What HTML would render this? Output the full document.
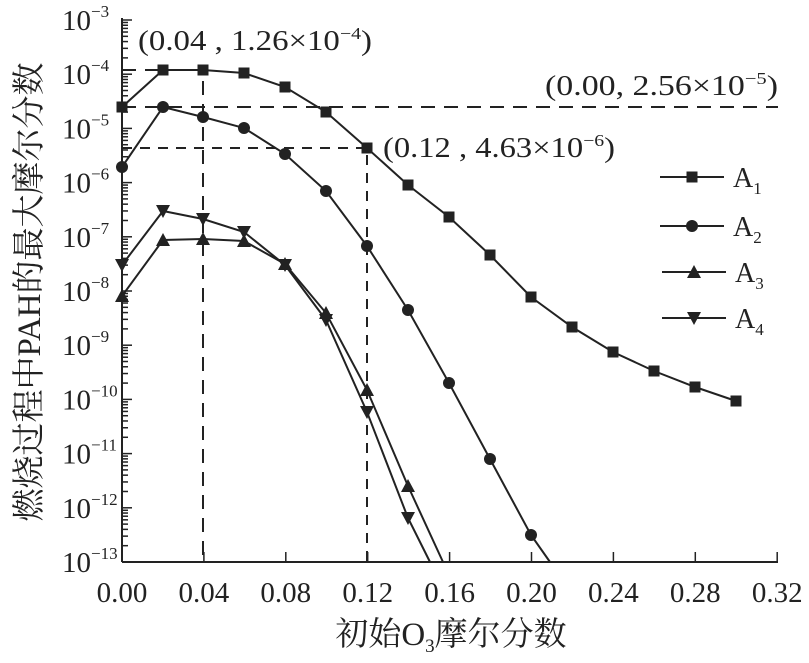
<!DOCTYPE html>
<html><head><meta charset="utf-8"><style>
html,body{margin:0;padding:0;background:#fff;}
svg{display:block;font-family:"Liberation Serif","Noto Serif CJK SC",serif;}
</style></head><body>
<svg width="809" height="663" viewBox="0 0 809 663">
<g stroke="#222" stroke-width="2" fill="none">
<line x1="122" y1="18" x2="122" y2="562"/>
<line x1="122" y1="562" x2="778" y2="562"/>
</g>
<g id="yt" stroke="#222" stroke-width="1.5"></g>
<g stroke="#222" stroke-width="2" stroke-dasharray="14,9" fill="none">
<polyline points="122,70 203,70 203,562"/>
<line x1="122" y1="107" x2="778" y2="107"/>
<polyline points="122,148 367,148 367,562" stroke-dasharray="10,8"/>
</g>
<g stroke="#222" stroke-width="2" fill="none">
<polyline points="122,107 163,70 203,70 244,73 285,87 326,112 367,148 408,185 449,217 490,255 531,297 572,327 613,352 654,371 695,387 736,401"/>
<polyline points="122,167 163,107 203,117 244,128 285,154 326,191 367,246 408,310 449,383 490,459 531,535 550,562"/>
<polyline points="122,296 163,240 203,239 244,241 285,264 326,313 367,390 408,486 443,562"/>
<polyline points="122,265 163,211 203,219 244,232 285,265 326,320 367,412 408,518 430,562"/>
<line x1="660" y1="177" x2="724" y2="177"/>
<line x1="660" y1="226" x2="724" y2="226"/>
<line x1="662" y1="272" x2="726" y2="272"/>
<line x1="662" y1="318" x2="726" y2="318"/>
</g>
<g fill="#222">
<g id="sq"></g><g id="ci"></g><g id="tu"></g><g id="td"></g>
</g>
<g font-size="29" fill="#222" id="yl"></g>
<g font-size="29" fill="#222" text-anchor="middle" id="xl"></g>
<g font-size="28" fill="#222">
<text x="138" y="50" textLength="234" lengthAdjust="spacingAndGlyphs">(0.04 , 1.26×10<tspan font-size="17" dy="-11">−4</tspan><tspan dy="11">)</tspan></text>
<text x="545" y="95" textLength="233" lengthAdjust="spacingAndGlyphs">(0.00, 2.56×10<tspan font-size="17" dy="-11">−5</tspan><tspan dy="11">)</tspan></text>
<text x="383" y="157" textLength="232" lengthAdjust="spacingAndGlyphs">(0.12 , 4.63×10<tspan font-size="17" dy="-11">−6</tspan><tspan dy="11">)</tspan></text>
<text x="733" y="187">A<tspan font-size="17" dy="7">1</tspan></text>
<text x="733" y="236">A<tspan font-size="17" dy="7">2</tspan></text>
<text x="735" y="282">A<tspan font-size="17" dy="7">3</tspan></text>
<text x="735" y="328">A<tspan font-size="17" dy="7">4</tspan></text>
<text x="451" y="645" text-anchor="middle" font-size="33">初始O<tspan font-size="19" dy="7">3</tspan><tspan dy="-7">摩尔分数</tspan></text>
<text transform="translate(40,292) rotate(-90)" text-anchor="middle" font-size="33">燃烧过程中PAH的最大摩尔分数</text>
</g>
<script>
var ns="http://www.w3.org/2000/svg";
function el(p,t,a){var e=document.createElementNS(ns,t);for(var k in a)e.setAttribute(k,a[k]);(typeof p=='string'?document.getElementById(p):p).appendChild(e);return e;}
var d=54.2;
for(var i=0;i<=10;i++){var y=20+i*d;
 el('yt','line',{x1:122,x2:132,y1:y,y2:y});
 var t=el('yl','text',{x:62,y:y+10});
 var a=el(t,'tspan',{});a.textContent='10';
 var b=el(t,'tspan',{'font-size':17,dy:-13});b.textContent='−'+(3+i);
 if(i<10)for(var m=2;m<10;m++){var yy=y+d-d*Math.log10(m);el('yt','line',{x1:122,x2:128,y1:yy,y2:yy});}
}
for(var j=0;j<=8;j++){var x=122+j*81.9;el('yt','line',{x1:x,x2:x,y1:562,y2:552});
 el('xl','text',{x:x,y:602}).textContent=(j*0.04).toFixed(2);}
var A1=[[122,107],[163,70],[203,70],[244,73],[285,87],[326,112],[367,148],[408,185],[449,217],[490,255],[531,297],[572,327],[613,352],[654,371],[695,387],[736,401],[692,177]];
A1.forEach(function(p){el('sq','rect',{x:p[0]-5.5,y:p[1]-5.5,width:11,height:11});});
var A2=[[122,167],[163,107],[203,117],[244,128],[285,154],[326,191],[367,246],[408,310],[449,383],[490,459],[531,535],[692,226]];
A2.forEach(function(p){el('ci','circle',{cx:p[0],cy:p[1],r:6});});
var A3=[[122,296],[163,240],[203,239],[244,241],[285,264],[326,313],[367,390],[408,486],[694,272]];
A3.forEach(function(p){el('tu','polygon',{points:(p[0]-7)+','+(p[1]+6)+' '+(p[0]+7)+','+(p[1]+6)+' '+p[0]+','+(p[1]-7)});});
var A4=[[122,265],[163,211],[203,219],[244,232],[285,265],[326,320],[367,412],[408,518],[694,318]];
A4.forEach(function(p){el('td','polygon',{points:(p[0]-7)+','+(p[1]-6)+' '+(p[0]+7)+','+(p[1]-6)+' '+p[0]+','+(p[1]+7)});});
</script>
</svg>
</body></html>
